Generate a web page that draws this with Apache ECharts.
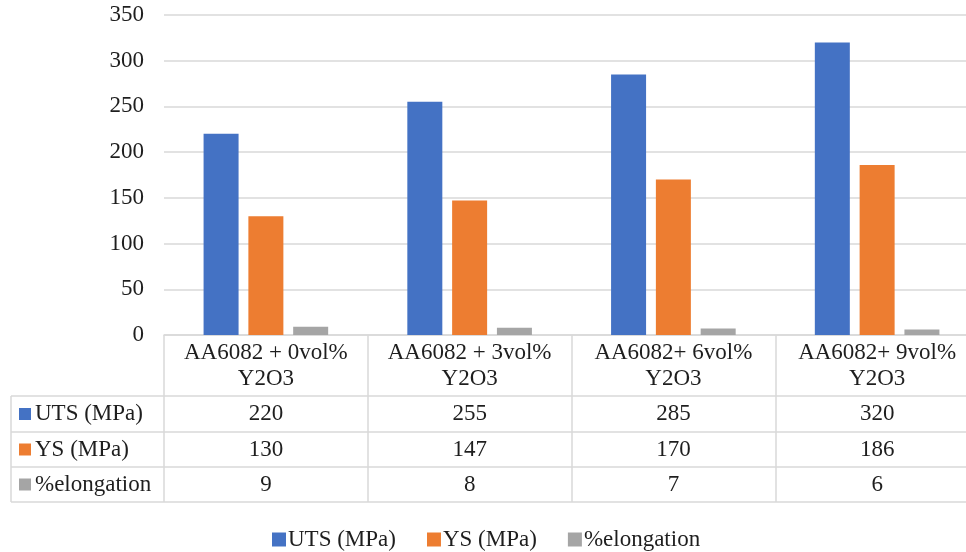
<!DOCTYPE html>
<html>
<head>
<meta charset="utf-8">
<script src="https://cdn.jsdelivr.net/npm/echarts@6/dist/echarts.min.js"></script>
<style>
  html, body { margin: 0; padding: 0; background: #fff; }
  #chart { width: 966px; height: 552px; }
</style>
</head>
<body>
<div id="chart"></div>
<script>
// Tensile properties of AA6082 composites with Y2O3 additions
const categories = ['AA6082 + 0vol%\nY2O3', 'AA6082 + 3vol%\nY2O3', 'AA6082+ 6vol%\nY2O3', 'AA6082+ 9vol%\nY2O3'];
const seriesNames = ['UTS (MPa)', 'YS (MPa)', '%elongation'];
const utsValues = [220, 255, 285, 320];
const ysValues = [130, 147, 170, 186];
const elongationValues = [9, 8, 7, 6];
const yTicks = { min: 0, max: 350, interval: 50 };

const colors = ['#4472C4', '#ED7D31', '#A5A5A5'];
const FONT = '"Liberation Serif", "Times New Roman", serif';
const FS = 23;
const TEXT = '#1e1e1e';
const LINE = '#d9d9d9';

const chart = echarts.init(document.getElementById('chart'), null, { renderer: 'canvas' });

const rows = [utsValues, ysValues, elongationValues];

chart.setOption({
  animation: false,
  color: colors,
  textStyle: { fontFamily: FONT },
  grid: { left: 164, width: 815, top: 15, height: 320, containLabel: false, outerBoundsMode: 'none' },
  legend: {
    data: seriesNames,
    left: 267, top: 523,
    icon: 'rect', itemWidth: 14, itemHeight: 14, itemGap: 31,
    textStyle: { fontFamily: FONT, fontSize: FS, color: TEXT, padding: [0, 0, 0, -3] }
  },
  xAxis: {
    type: 'category',
    data: categories,
    axisLine: { show: true, lineStyle: { color: LINE, width: 1.5 } },
    axisTick: { show: true, length: 167, lineStyle: { color: LINE, width: 1.5 } },
    axisLabel: { fontFamily: FONT, fontSize: FS, color: TEXT, lineHeight: 26, margin: 5, interval: 0 }
  },
  yAxis: {
    type: 'value',
    min: yTicks.min, max: yTicks.max, interval: yTicks.interval,
    axisLine: { show: false }, axisTick: { show: false },
    axisLabel: { fontFamily: FONT, fontSize: FS, color: TEXT, margin: 20 },
    splitLine: { lineStyle: { color: LINE, width: 1.5 } }
  },
  series: [
    { name: seriesNames[0], type: 'bar', data: utsValues, barWidth: 35, barGap: '28%' },
    { name: seriesNames[1], type: 'bar', data: ysValues, barWidth: 35, barGap: '28%' },
    { name: seriesNames[2], type: 'bar', data: elongationValues, barWidth: 35, barGap: '28%' }
  ]
});

// Data table below the axis: row labels with colour keys, values per category
const axisY = chart.convertToPixel({ yAxisIndex: 0 }, 0);
const tableLeft = 11;
const rowEdges = [axisY + 61, axisY + 97, axisY + 132, axisY + 167];
const graphics = [];

rowEdges.forEach(function (y) {
  graphics.push({
    type: 'line', silent: true,
    shape: { x1: tableLeft, y1: y, x2: 980, y2: y },
    style: { stroke: LINE, lineWidth: 1.5 }
  });
});
graphics.push({
  type: 'line', silent: true,
  shape: { x1: tableLeft, y1: rowEdges[0], x2: tableLeft, y2: rowEdges[3] },
  style: { stroke: LINE, lineWidth: 1.5 }
});

rows.forEach(function (vals, r) {
  const yMid = (rowEdges[r] + rowEdges[r + 1]) / 2;
  graphics.push({
    type: 'rect', silent: true,
    shape: { x: 19, y: yMid - 6, width: 12, height: 12 },
    style: { fill: colors[r] }
  });
  graphics.push({
    type: 'text', silent: true,
    x: 35, y: yMid,
    style: { text: seriesNames[r], font: FS + 'px ' + FONT, fill: TEXT, textVerticalAlign: 'middle', verticalAlign: 'middle' }
  });
  vals.forEach(function (v, i) {
    graphics.push({
      type: 'text', silent: true,
      x: chart.convertToPixel({ xAxisIndex: 0 }, i), y: yMid,
      style: { text: String(v), font: FS + 'px ' + FONT, fill: TEXT, align: 'center', textAlign: 'center', verticalAlign: 'middle', textVerticalAlign: 'middle' }
    });
  });
});

chart.setOption({ graphic: graphics });
</script>
</body>
</html>
